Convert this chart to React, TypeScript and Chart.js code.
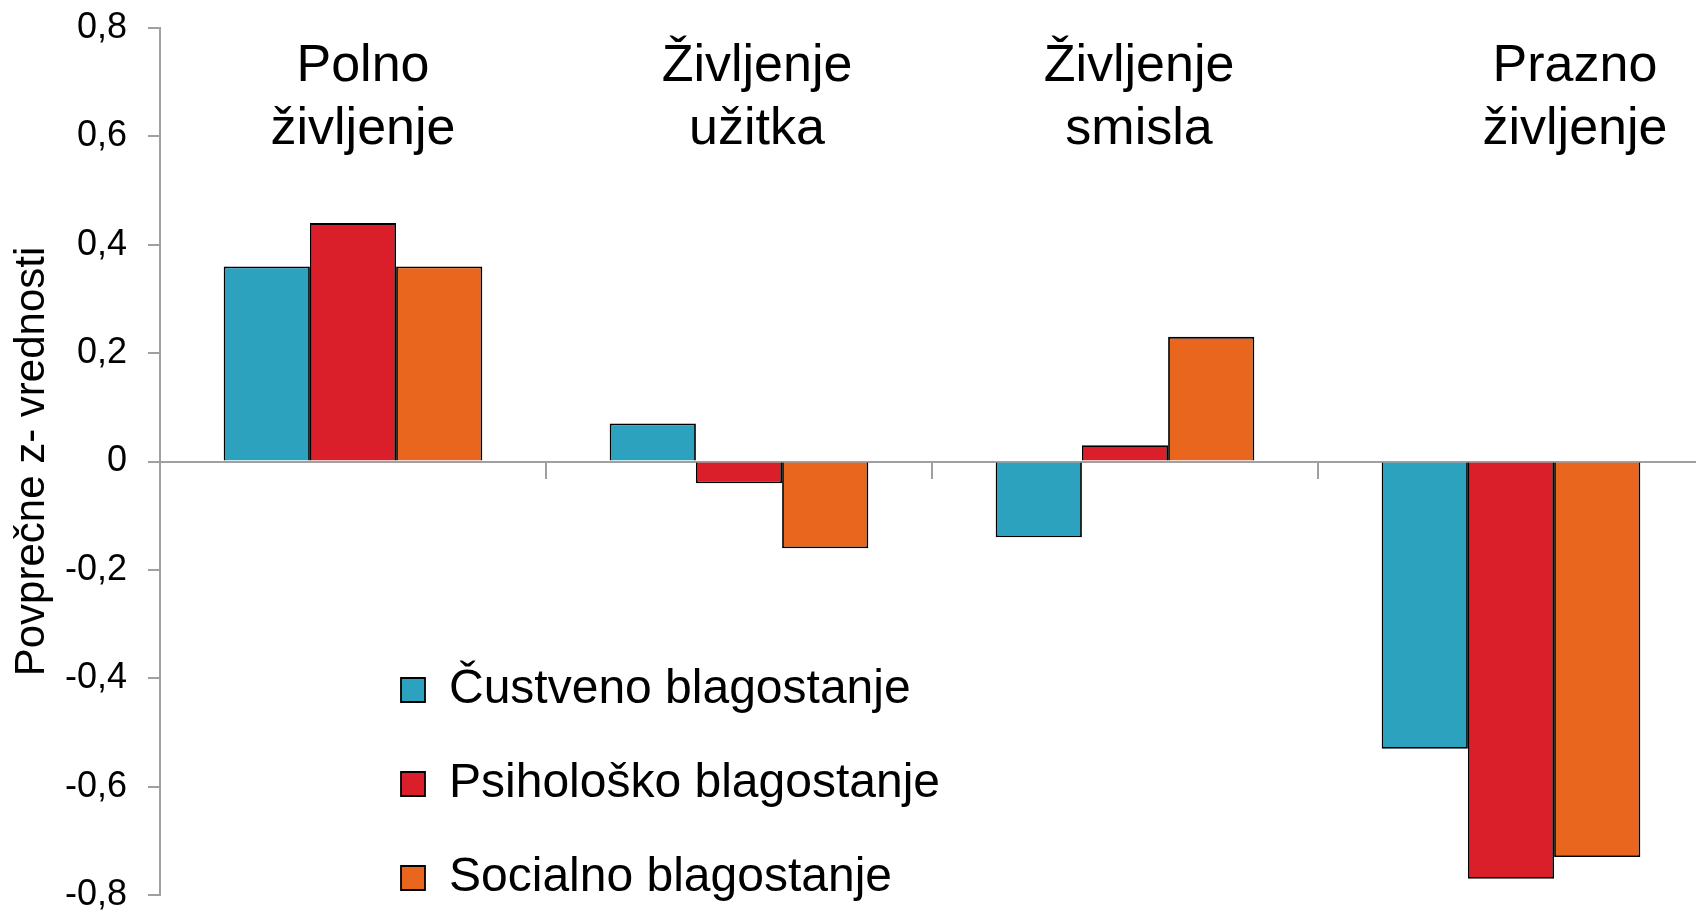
import React, { useEffect, useRef } from "react";
import { Chart, registerables } from "chart.js";

Chart.register(...registerables);

// ---- data ----
const categoryLines: string[][] = [
  ["Polno", "življenje"],
  ["Življenje", "užitka"],
  ["Življenje", "smisla"],
  ["Prazno", "življenje"],
];
const seriesNames = ["Čustveno blagostanje", "Psihološko blagostanje", "Socialno blagostanje"];
const custveno = [0.36, 0.07, -0.14, -0.53];
const psiholosko = [0.44, -0.04, 0.03, -0.77];
const socialno = [0.36, -0.16, 0.23, -0.73];
const yMin = -0.8;
const yMax = 0.8;
const yStep = 0.2;

// ---- styles ----
const FONT = '"Liberation Sans", Arial, Helvetica, sans-serif';
const COLORS = ["#2CA2BF", "#DA1F2A", "#E8661E"];
const AXIS_GRAY = "#A0A0A0";
const LABEL_SHIFT = [10, 18, 14, 64];
const LEGEND_FONT = 48;
const LEGEND_PAD = 46;

const categoryLabelPlugin = {
  id: "categoryLabels",
  afterDatasetsDraw(chart: any) {
    const { ctx, chartArea } = chart;
    const xs = chart.scales.x;
    ctx.save();
    ctx.font = `52px ${FONT}`;
    ctx.fillStyle = "#000";
    ctx.textAlign = "center";
    ctx.textBaseline = "alphabetic";
    categoryLines.forEach((lines, i) => {
      const cx = xs.getPixelForValue(i) + LABEL_SHIFT[i];
      lines.forEach((t, j) => ctx.fillText(t, cx, chartArea.top + 53 + j * 63));
    });
    ctx.restore();
  },
};

const legendPlacePlugin = {
  id: "legendPlace",
  beforeDraw(chart: any) {
    const lg = chart.legend;
    if (!lg) return;
    lg.left = 401 - LEGEND_PAD;
    lg.top = 690 - LEGEND_PAD - LEGEND_FONT / 2;
    lg.right = chart.width;
    lg.bottom = chart.height + 2000;
  },
};

export default function App() {
  const ref = useRef<HTMLCanvasElement | null>(null);

  useEffect(() => {
    if (!ref.current) return;
    const chart = new Chart(ref.current, {
      type: "bar",
      data: {
        labels: categoryLines.map((l) => l.join(" ")),
        datasets: [
          { label: seriesNames[0], data: custveno, backgroundColor: COLORS[0] },
          { label: seriesNames[1], data: psiholosko, backgroundColor: COLORS[1] },
          { label: seriesNames[2], data: socialno, backgroundColor: COLORS[2] },
        ].map((d) => ({
          ...d,
          borderColor: "#000",
          borderWidth: 1.8,
          categoryPercentage: 0.67,
          barPercentage: 1,
        })),
      },
      options: {
        responsive: false,
        animation: false,
        layout: { padding: { top: 28, bottom: 17, left: 0, right: 6 } },
        plugins: {
          tooltip: { enabled: false },
          legend: {
            position: "chartArea",
            align: "start",
            labels: {
              boxWidth: 24,
              boxHeight: 24,
              padding: LEGEND_PAD,
              color: "#000",
              font: { family: FONT, size: LEGEND_FONT, lineHeight: 1 },
            },
          },
        },
        scales: {
          x: {
            type: "category",
            position: { y: 0 } as any,
            z: 1,
            offset: true,
            ticks: { display: false },
            grid: {
              offset: true,
              drawOnChartArea: false,
              drawTicks: true,
              tickLength: 16,
              color: AXIS_GRAY,
              lineWidth: 2,
            },
            border: { display: true, color: AXIS_GRAY, width: 2 },
          },
          y: {
            min: yMin,
            max: yMax,
            afterFit: (scale: any) => {
              scale.width = 160;
              scale.paddingTop = 0;
              scale.paddingBottom = 0;
            },
            ticks: {
              stepSize: yStep,
              color: "#000",
              padding: 21,
              font: { family: FONT, size: 36, lineHeight: 1 },
              callback: (v: any) => {
                const n = Number(v);
                if (Math.abs(n) < 1e-9) return "0";
                return n.toFixed(1).replace(".", ",");
              },
            },
            grid: {
              drawOnChartArea: false,
              drawTicks: true,
              tickLength: 12,
              color: AXIS_GRAY,
              lineWidth: 2,
            },
            border: { display: true, color: AXIS_GRAY, width: 2 },
            title: {
              display: true,
              text: "Povprečne z- vrednosti",
              color: "#000",
              font: { family: FONT, size: 42, lineHeight: 1.2 },
              padding: { top: 7, bottom: 0 },
            },
          },
        },
      },
      plugins: [categoryLabelPlugin, legendPlacePlugin],
    });
    return () => chart.destroy();
  }, []);

  return (
    <div
      style={{
        position: "absolute",
        left: 0,
        top: 0,
        width: 1696,
        height: 912,
        overflow: "hidden",
        background: "#fff",
      }}
    >
      <canvas ref={ref} width={1710} height={912} style={{ display: "block" }} />
    </div>
  );
}
